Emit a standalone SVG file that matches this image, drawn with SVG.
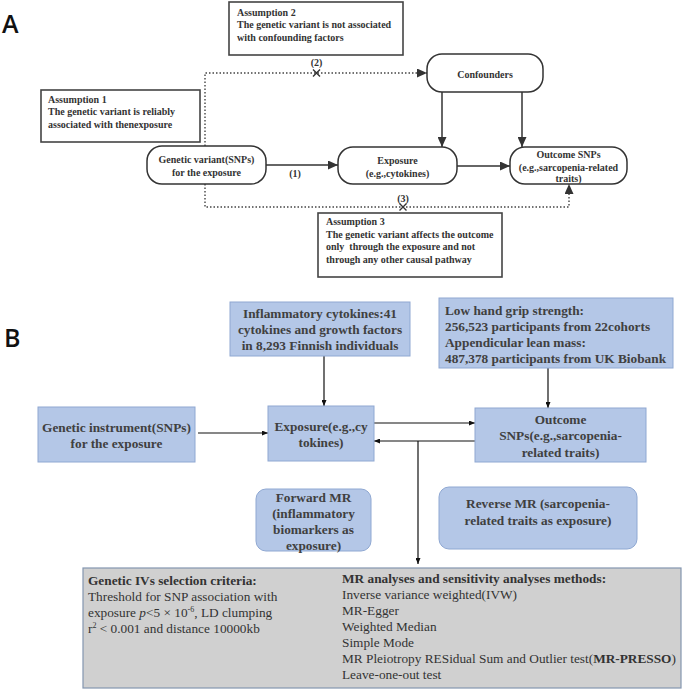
<svg xmlns="http://www.w3.org/2000/svg" width="685" height="690" viewBox="0 0 685 690">
<style>
.lbl{font-family:"Open Sans","DejaVu Sans",sans-serif;font-size:25px;font-weight:600;fill:#111}
.ta{font-family:"Liberation Serif","Times New Roman",serif;font-size:10px;font-weight:bold;fill:#333}
.tac{font-family:"Liberation Serif","Times New Roman",serif;font-size:10px;font-weight:bold;fill:#333;text-anchor:middle}
.asm{fill:#fff;stroke:#444;stroke-width:1.6}
.na{fill:#fff;stroke:#333;stroke-width:1.5}
.nb{fill:#b4c7e7;stroke:#8fa8d2;stroke-width:1}
.tb{font-family:"Liberation Serif","Times New Roman",serif;font-size:13.3px;font-weight:bold;fill:#404040}
.tbc{font-family:"Liberation Serif","Times New Roman",serif;font-size:13.3px;font-weight:bold;fill:#404040;text-anchor:middle}
.tg{font-family:"Liberation Serif","Times New Roman",serif;font-size:13.3px;fill:#333}
.ca{fill:none;stroke:#333;stroke-width:1.5}
.cd{fill:none;stroke:#444;stroke-width:1.4;stroke-dasharray:1.5 2}
.cb{fill:none;stroke:#111;stroke-width:1.2}
</style>
<defs>
<marker id="ha" markerUnits="userSpaceOnUse" markerWidth="10" markerHeight="9" refX="10" refY="4.5" orient="auto"><path d="M0,0 L10,4.5 L0,9 z" fill="#333"/></marker>
<marker id="hb" markerUnits="userSpaceOnUse" markerWidth="6" markerHeight="5" refX="6" refY="2.5" orient="auto"><path d="M0,0 L6,2.5 L0,5 z" fill="#111"/></marker>
</defs>

<text class="lbl" x="2" y="33">A</text>
<text class="lbl" x="4" y="347">B</text>

<g id="connectors">
  <!-- Part A -->
  <path class="cd" d="M205,146 V73 H427" marker-end="url(#ha)"/>
  <path class="cd" d="M205,184 V207 H569 V184" marker-end="url(#ha)"/>
  <path class="ca" d="M266,165 H338" marker-end="url(#ha)"/>
  <path class="ca" d="M457,166 H510" marker-end="url(#ha)"/>
  <path class="ca" d="M442,92 V147" marker-end="url(#ha)"/>
  <path class="ca" d="M522,92 V147" marker-end="url(#ha)"/>
  <path d="M313,69.5 L320,76.5 M320,69.5 L313,76.5" stroke="#333" stroke-width="1.4"/>
  <path d="M399.5,203.5 L406.5,210.5 M406.5,203.5 L399.5,210.5" stroke="#333" stroke-width="1.4"/>
  <text class="tac" x="316.5" y="66">(2)</text>
  <text class="tac" x="403" y="202">(3)</text>
  <text class="tac" x="295" y="177">(1)</text>
  <!-- Part B -->
  <path class="cb" d="M324,356 V406" marker-end="url(#hb)"/>
  <path class="cb" d="M548,368 V408" marker-end="url(#hb)"/>
  <path class="cb" d="M198,433 H268" marker-end="url(#hb)"/>
  <path class="cb" d="M374,423 H475" marker-end="url(#hb)"/>
  <path class="cb" d="M475,441 H374" marker-end="url(#hb)"/>
  <path class="cb" d="M418,441 V564" marker-end="url(#hb)"/>
</g>

<g id="assumption2">
  <rect class="asm" x="229" y="2" width="174" height="53"/>
  <text class="ta" x="237" y="15.5">Assumption 2</text>
  <text class="ta" x="237" y="28">The genetic variant is not associated</text>
  <text class="ta" x="237" y="40.5">with confounding factors</text>
</g>
<g id="assumption1">
  <rect class="asm" x="41" y="90" width="159" height="52"/>
  <text class="ta" x="48" y="102.5">Assumption 1</text>
  <text class="ta" x="48" y="115">The genetic variant is reliably</text>
  <text class="ta" x="48" y="127.5">associated with thenexposure</text>
</g>
<g id="assumption3">
  <rect class="asm" x="318" y="213" width="184" height="64"/>
  <text class="ta" x="326" y="224.5">Assumption 3</text>
  <text class="ta" x="326" y="237.5">The genetic variant affects the outcome</text>
  <text class="ta" x="326" y="250" xml:space="preserve">only  through the exposure and not</text>
  <text class="ta" x="326" y="262.5">through any other causal pathway</text>
</g>
<g id="confounders">
  <rect class="na" x="427" y="54" width="116" height="38" rx="15"/>
  <text class="tac" x="485" y="77.5">Confounders</text>
</g>
<g id="geneticVariant">
  <rect class="na" x="147" y="146" width="119" height="38" rx="15"/>
  <text class="tac" x="206.5" y="162.5">Genetic variant(SNPs)</text>
  <text class="tac" x="206.5" y="176">for the exposure</text>
</g>
<g id="exposureA">
  <rect class="na" x="338" y="147" width="119" height="37" rx="15"/>
  <text class="tac" x="397.5" y="163.5">Exposure</text>
  <text class="tac" x="397.5" y="176.5">(e.g.,cytokines)</text>
</g>
<g id="outcomeA">
  <rect class="na" x="510" y="147" width="117" height="37" rx="15"/>
  <text class="tac" x="568.5" y="157.5">Outcome SNPs</text>
  <text class="tac" x="568.5" y="170.5">(e.g.,sarcopenia-related</text>
  <text class="tac" x="568.5" y="182">traits)</text>
</g>

<g id="cytokines">
  <rect class="nb" x="230" y="302" width="180" height="54"/>
  <text class="tbc" x="320" y="317.5">Inflammatory cytokines:41</text>
  <text class="tbc" x="320" y="333.5">cytokines and growth factors</text>
  <text class="tbc" x="320" y="349.5">in 8,293 Finnish individuals</text>
</g>
<g id="gripLean">
  <rect class="nb" x="439" y="298" width="234" height="70"/>
  <text class="tb" x="445" y="314.5">Low hand grip strength:</text>
  <text class="tb" x="445" y="330.5">256,523 participants from 22cohorts</text>
  <text class="tb" x="445" y="346.5">Appendicular lean mass:</text>
  <text class="tb" x="445" y="362.5">487,378 participants from UK Biobank</text>
</g>
<g id="instrument">
  <rect class="nb" x="38" y="407" width="157" height="55"/>
  <text class="tbc" x="116.5" y="431.5">Genetic instrument(SNPs)</text>
  <text class="tbc" x="116.5" y="447.5">for the exposure</text>
</g>
<g id="exposureB">
  <rect class="nb" x="268" y="406" width="106" height="55"/>
  <text class="tbc" x="321" y="430.5">Exposure(e.g.,cy</text>
  <text class="tbc" x="321" y="446.5">tokines)</text>
</g>
<g id="outcomeB">
  <rect class="nb" x="475" y="408" width="171" height="54"/>
  <text class="tbc" x="560.5" y="423.5">Outcome</text>
  <text class="tbc" x="560.5" y="440">SNPs(e.g.,sarcopenia-</text>
  <text class="tbc" x="560.5" y="456.5">related traits)</text>
</g>
<g id="forwardMR">
  <rect class="nb" x="256" y="489" width="115" height="62" rx="10"/>
  <text class="tbc" x="313.5" y="501.5">Forward MR</text>
  <text class="tbc" x="313.5" y="517.5">(inflammatory</text>
  <text class="tbc" x="313.5" y="533.5">biomarkers as</text>
  <text class="tbc" x="313.5" y="549.5">exposure)</text>
</g>
<g id="reverseMR">
  <rect class="nb" x="439" y="487" width="198" height="62" rx="10"/>
  <text class="tbc" x="538" y="507.5">Reverse MR (sarcopenia-</text>
  <text class="tbc" x="538" y="524.5">related traits as exposure)</text>
</g>
<g id="methods">
  <rect x="83" y="568" width="598" height="120" fill="#d0d0d0" stroke="#8496b0" stroke-width="1.2"/>
  <text class="tg" x="88" y="584.5" font-weight="bold">Genetic IVs selection criteria:</text>
  <text class="tg" x="88" y="600.5">Threshold for SNP association with</text>
  <text class="tg" x="88" y="616.5">exposure <tspan font-style="italic">p</tspan>&lt;5 × 10<tspan dy="-5" font-size="8">-6</tspan><tspan dy="5">, LD clumping</tspan></text>
  <text class="tg" x="88" y="632.5">r<tspan dy="-5" font-size="8">2</tspan><tspan dy="5"> &lt; 0.001 and distance 10000kb</tspan></text>
  <text class="tg" x="342" y="582.5" font-weight="bold">MR analyses and sensitivity analyses methods:</text>
  <text class="tg" x="342" y="598.5">Inverse variance weighted(IVW)</text>
  <text class="tg" x="342" y="614.5">MR-Egger</text>
  <text class="tg" x="342" y="630.5">Weighted Median</text>
  <text class="tg" x="342" y="646.5">Simple Mode</text>
  <text class="tg" x="342" y="662.5">MR Pleiotropy RESidual Sum and Outlier test(<tspan font-weight="bold">MR-PRESSO</tspan>)</text>
  <text class="tg" x="342" y="678.5" fill="#666">Leave-one-out test</text>
</g>
</svg>
